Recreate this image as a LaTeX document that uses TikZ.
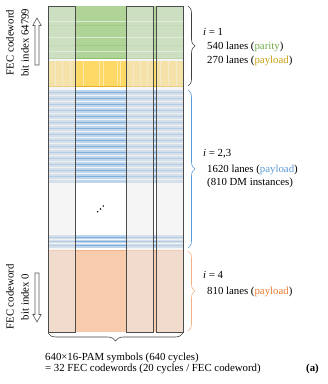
\documentclass[tikz,border=0pt]{standalone}
\usepackage{fontspec}
\setmainfont{Liberation Serif}
\usetikzlibrary{decorations.pathreplacing}
\definecolor{gmid}{HTML}{B0D498}
\definecolor{gline}{HTML}{8DBF6C}
\definecolor{ymid}{HTML}{FFD966}
\definecolor{yline}{HTML}{E6B422}
\definecolor{bmid}{HTML}{BFD5EC}
\definecolor{bline}{HTML}{6FA6DA}
\definecolor{omid}{HTML}{F8CBAD}
\definecolor{oline}{HTML}{F4B183}
\definecolor{cpar}{HTML}{70AD47}
\definecolor{cpay}{HTML}{C9A010}
\definecolor{cblue}{HTML}{5B9BD5}
\definecolor{corange}{HTML}{ED7D31}
\begin{document}
\begin{tikzpicture}[x=1pt,y=-1pt,
  font=\fontsize{10.8}{14}\selectfont,
  boxline/.style={draw=black!70, line width=0.8pt},
  lite/.style={fill=black!8, fill opacity=0.5},
  txt/.style={anchor=base west, inner sep=0pt},
  hollow/.style={draw=black!65, fill=white, line width=0.6pt, line join=miter},
  bracedeco/.style={decorate, decoration={brace, amplitude=7pt}, line width=0.6pt},
]
\useasboundingbox (0,0) rectangle (328,384);

% green band (parity)
\fill[gmid] (48,6) rectangle (183,58.5);
\foreach \y in {21.7,37.7,51.7} \draw[white, opacity=0.55, line width=0.6pt] (48,\y) -- (183,\y);
\foreach \y in {25,45} \draw[gline, opacity=0.5, line width=0.5pt] (48,\y) -- (183,\y);
\draw[gline, line width=0.8pt] (48,58.2) -- (183,58.2);

% yellow band (payload i=1)
\fill[ymid] (48,60.5) rectangle (183,87);
\foreach \x in {55,62,70,83,99,103,117,120,133,140,147,160,168,176}
  \draw[white, opacity=0.45, line width=0.6pt] (\x,60.5) -- (\x,87);
\draw[yline, line width=0.8pt] (48,86.6) -- (183,86.6);

% blue band (payload i=2,3)
\fill[bmid] (48,89.5) rectangle (183,183);
\foreach \y in {92,98,...,180} \draw[bline, opacity=0.8, line width=0.5pt] (48,\y) -- (183,\y);
\foreach \y in {95,101,...,180} \draw[white, opacity=0.8, line width=0.5pt] (48,\y) -- (183,\y);

% lower blue band
\fill[bmid] (48,235) rectangle (183,248);
\foreach \y in {237,241,245} \draw[bline, opacity=0.8, line width=0.5pt] (48,\y) -- (183,\y);
\foreach \y in {239,243} \draw[white, opacity=0.8, line width=0.5pt] (48,\y) -- (183,\y);

% orange band (payload i=4)
\fill[omid] (48,250) rectangle (183,332);
\draw[oline, line width=0.8pt] (48,250.5) -- (183,250.5);

% lighter outer columns
\fill[lite] (48,6) rectangle (75,332);
\fill[lite] (126,6) rectangle (153,332);
\fill[lite] (156,6) rectangle (183,332);

% column outlines
\draw[boxline] (48,6) rectangle (75,332);
\draw[boxline] (126,6) rectangle (153,332);
\draw[boxline] (156,6) rectangle (183,332);

% dots
\foreach \p in {(97.7,211.7),(100.5,209),(103.3,206)} \fill[black] \p circle (0.8pt);

% right braces
\coordinate (b1t) at (188,6);   \coordinate (b1b) at (188,86);
\coordinate (b2t) at (188,90);  \coordinate (b2b) at (188,248);
\coordinate (b3t) at (188,251); \coordinate (b3b) at (188,331);
\draw[bracedeco, black!75] (b1t) -- (b1b);
\draw[bracedeco, cblue] (b2t) -- (b2b);
\draw[bracedeco, oline] (b3t) -- (b3b);

% bottom brace
\coordinate (bbl) at (48,333); \coordinate (bbr) at (183,333);
\draw[decorate, decoration={brace, amplitude=8pt, mirror}, line width=0.6pt, black!75] (bbl) -- (bbr);

% right texts
\node[txt] (i1) at (203,35.5) {\textit{i} = 1};
\node[txt] (l1) at (207,49) {540 lanes (\textcolor{cpar}{parity})};
\node[txt] (l2) at (207,63) {270 lanes (\textcolor{cpay}{payload})};
\node[txt] (i2) at (203,156.5) {\textit{i} = 2,3};
\node[txt] (l3) at (207,172) {1620 lanes (\textcolor{cblue}{payload})};
\node[txt] (l4) at (207,185.5) {(810 DM instances)};
\node[txt] (i4) at (203,278) {\textit{i} = 4};
\node[txt] (l5) at (207,294.5) {810 lanes (\textcolor{corange}{payload})};

% bottom texts
\node[txt] (c1) at (45,360.5) {640×16-PAM symbols (640 cycles)};
\node[txt] (c2) at (45,371.5) {= 32 FEC codewords (20 cycles / FEC codeword)};
\node[txt, font=\fontsize{10.8}{14}\selectfont\bfseries] (lab) at (306,371.5) {(a)};

% left labels
\node[rotate=90, align=center, inner sep=0pt, font=\fontsize{10.8}{15}\selectfont] (lt) at (17.5,42.5) {FEC codeword\\bit index 64799};
\node[rotate=90, align=center, inner sep=0pt, font=\fontsize{10.8}{15}\selectfont] (lb) at (17.5,297) {FEC codeword\\bit index 0};

% hollow arrows
\draw[hollow] (35,65) -- (35,25.5) -- (32.8,25.5) -- (37,18) -- (41.2,25.5) -- (39,25.5) -- (39,65) -- cycle;
\draw[hollow] (35,273) -- (35,314.5) -- (32.8,314.5) -- (37,322) -- (41.2,314.5) -- (39,314.5) -- (39,273) -- cycle;
\end{tikzpicture}
\end{document}
